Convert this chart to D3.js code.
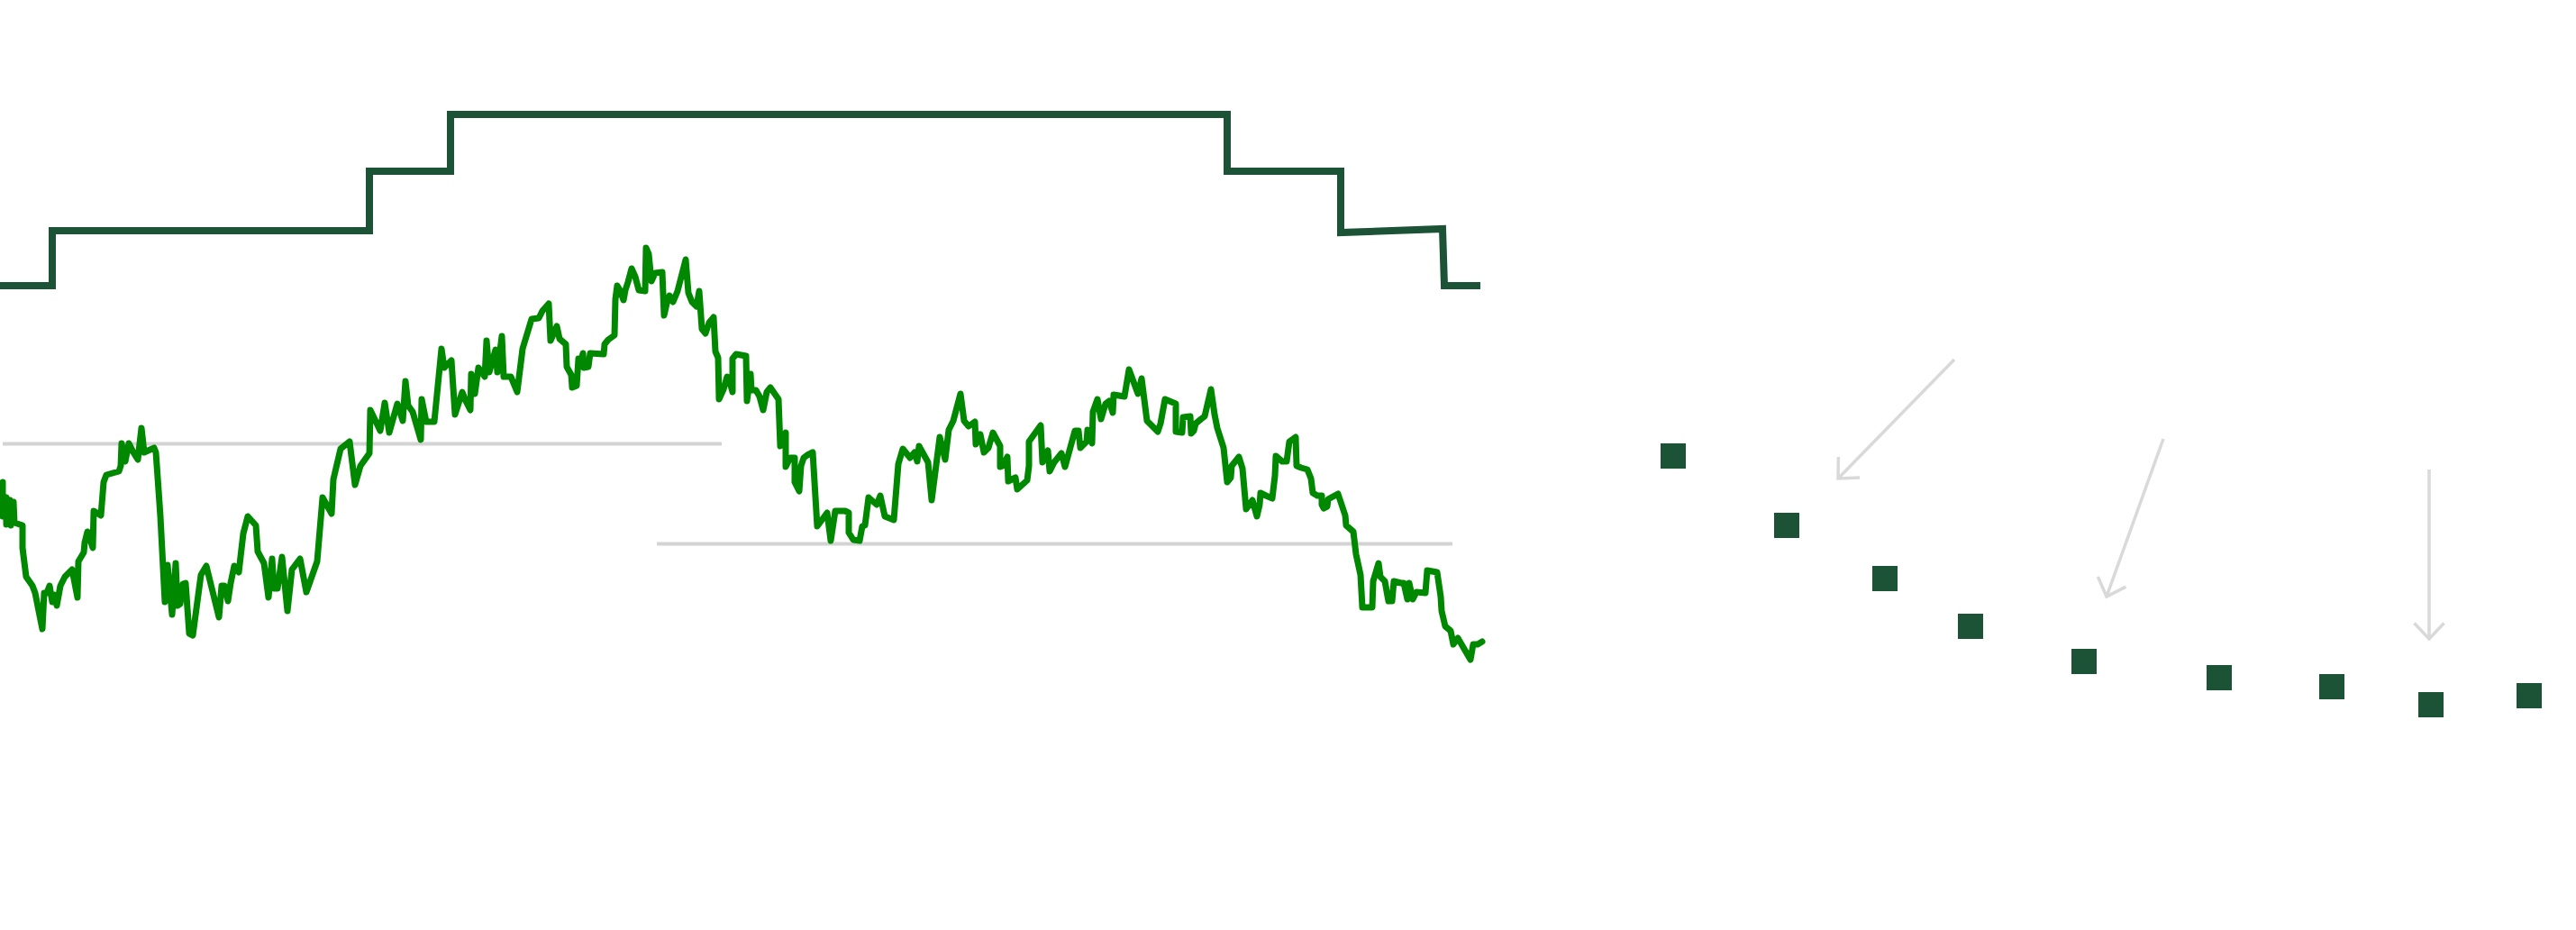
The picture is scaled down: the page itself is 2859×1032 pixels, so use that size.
<!DOCTYPE html>
<html lang="en">
<head>
<meta charset="UTF-8" />
<title>Chart</title>
<script src="https://d3js.org/d3.v7.min.js"></script>
<style>
  body { margin: 0; background: #fff; }
  svg { display: block; }
</style>
</head>
<body>
<svg id="chart"></svg>
<script>
// daily series [day, value]
const priceSeries = [
  [0,39.4],[1.5,43],[1.5,35.4],[3.5,39.6],[3.5,33.6],[5.5,39],[6,33.4],[7.5,38.6],[8,34],[12.5,33.4],
  [12.5,28.4],[14.5,22],[18,20],[19.5,18.4],[23.5,10.4],[24.5,18.4],[26,18.4],[27.5,20],[29,16.4],[30,18],
  [31.5,15.6],[33.5,20],[36,22],[40,23.6],[43,17.4],[43.5,25.4],[46.5,27.4],[47,29.6],[48.5,32],[51.5,28.4],
  [52,36.6],[56,35.6],[57.5,43],[59,44.6],[66,45.4],[67,46.6],[67.5,51.6],[69.5,47.6],[71.5,51.6],[74,49.6],
  [76.5,48],[78.5,55],[80,49.6],[85.5,50.6],[86.5,49.6],[87.5,44],[89,35.4],[91.5,16.4],[93,24.6],[95.5,13.6],
  [97.5,25],[98.5,15.6],[100,16],[101.5,20.4],[103,20.6],[105,9.4],[107,9],[111.5,22.4],[114.5,24.4],[121.5,13],
  [123,20],[124.5,20],[126.5,16.6],[128,20.6],[130,24.4],[132.5,23],[135,31.6],[137.5,35.4],[142,33.4],[143,27.6],
  [146.5,25],[149,17.4],[151,26],[152,19.4],[154,19.4],[156.5,26.4],[159.5,14.4],[162,23.6],[166.5,26],[170,18.6],
  [176,25.4],[179,39.6],[184,36],[185,43.6],[189,50.4],[194,52],[197,42.4],[200,46.6],[205,49.4],[205.5,59],
  [211,54.4],[213.5,60.6],[216,54],[220.5,60.4],[223.5,56.6],[225,65.4],[226.5,60],[229,58.6],[233.5,52.4],[234,61.4],
  [236.5,56.4],[241,56.4],[245,72.6],[246.5,68.4],[250.5,70],[252.5,58],[256.5,63],[258.5,61],[261,59],[261.5,67],
  [263.5,62.6],[265.5,68.4],[269,66.4],[270,74.4],[271.5,67.4],[275,72.4],[276,67.4],[278.5,75.4],[279.5,66.4],[283.5,66.4],
  [287,63],[290,72.6],[295,79.2],[299,79.4],[301,81],[304.5,82.6],[305.5,74.4],[309,77.6],[310.5,74.8],[314,73.6],
  [314.5,68.6],[317,66.8],[317.5,64],[320,64.4],[321,70.4],[322.5,70],[323.5,71.6],[324,68.4],[326.5,68.6],[327.5,71.6],
  [335,71.4],[335.5,73.6],[337.5,74.6],[341,75.6],[341.5,83.6],[342.5,86.6],[344,85.6],[346,83.4],[347,85.6],[348.5,87.4],
  [350.5,90.4],[352.5,88.6],[354.5,85.6],[358,85.4],[358.5,95],[360,93.6],[361.5,87.6],[363.5,89.4],[367.5,89.6],[368.5,80],
  [370,82.6],[371.5,84.4],[373.5,83],[376,85.4],[380.5,92.4],[382,85],[384,83],[386.5,82],[388,85.4],[389.5,77],
  [391.5,76],[393.5,78.4],[396,79.6],[397,72],[398.5,70.6],[399,61.4],[401.5,63.6],[403.5,66.4],[404.5,66],[406.5,63],
  [406.5,70.4],[408.5,71.4],[414,71],[414.5,61],[416.5,67],[417,63.4],[419.5,63.4],[421.5,62],[423.5,59],[425.5,63],
  [427.5,64],[432,61.4],[433,51],[436,54],[436,46.4],[438.5,48.4],[441,48.4],[441,43],[443.5,41],[444.5,46.6],
  [446,48.4],[448,49],[451,49.6],[453.5,33.2],[459,36.2],[461,30],[463.5,36.6],[469,36.6],[471,36.2],[471,31.8],
  [473.5,30.2],[477,30],[478.5,33.2],[480,33.4],[482,39.6],[486.5,38],[488.5,40],[491,35.4],[496,34.6],[498.5,47],
  [501,50.4],[505,48.4],[507.5,49.6],[509,47.6],[510,51],[515,47.4],[517,39],[521.5,53],[524.5,48],[526.5,54.6],
  [529,56.6],[533,62.6],[535,56.6],[537.5,55.4],[541,56.4],[541.5,51.4],[544,53.6],[546,49.6],[548.5,50.6],[551,54],
  [555,51],[555,46.4],[556.5,46.6],[559,48.6],[559.5,43.2],[563.5,44],[564.5,41.4],[570,43.4],[571,46.6],[571,52],
  [577.5,55.6],[578.5,47.4],[581.5,50],[582.5,45.4],[585,47.4],[589,49.4],[591,46.4],[596.5,54.4],[598.5,54.4],[599.5,50.6],
  [603,52],[603.5,54.6],[606,51.6],[606.5,58.6],[609,61.4],[611,57],[613.5,60.4],[615.5,61],[617.5,58.4],[618,62.4],
  [624,62],[626.5,68],[631.5,62.6],[633.5,66],[636.5,56.6],[642.5,54.2],[644,56],[646.5,61.4],[652.5,60.4],[652.5,54.2],
  [656,54],[656.5,57.4],[660.5,57.6],[661,53.8],[662.5,54.4],[663.5,56],[666.5,57],[668.5,57.6],[672,63.6],[674,58],
  [675.5,55],[679,50.6],[681,43],[683,44],[683.5,46.6],[687.5,48.6],[689.5,46],[691.5,37],[695,39],[697.5,35.4],
  [699,38],[699.5,40.6],[702.5,40],[706,39.4],[707.5,44.4],[708,48.8],[711.5,47.6],[714,47.6],[715.5,52],[719,53],
  [719.5,46.6],[722,46.2],[725.5,45.8],[727.5,43.8],[728.5,40.6],[731,40],[733.5,40],[733.5,38],[734.5,37.2],[736.5,37.6],
  [737,39.2],[742.5,40.4],[746.5,35.6],[747,33.4],[751,32],[752.5,27],[755,22.4],[756,15.2],[761.5,15.2],[762,21],
  [765,25],[766,22],[768.5,21],[770.5,16.6],[772.5,16.6],[773.5,21],[777.5,20.6],[779,20.6],[781,17],[782,20.6],
  [784,17],[786,18.6],[791,18.4],[792,23.4],[797.5,23],[799.5,17.6],[800,14.4],[802,11],[805,10],[806.5,7],
  [809,8.4],[812.5,6],[816,3.6],[817.5,7],[820,7],[822.5,7.6]
];

// stepped level line vertices [day, level]
const levelSeries = [
  [0,86.6],[29,86.6],[29,98.8],[205,98.8],[205,112],[250,112],[250,124.6],[681,124.6],
  [681,112],[744,112],[744,98.4],[800.5,99.2],[801.5,86.6],[821.5,86.6]
];

// period averages [startDay, endDay, value]
const averages = [
  [1.5, 400.5, 51.5],
  [364.5, 806, 29.3]
];

// later points
const pointDays = [928.5, 991.5, 1046, 1093.5, 1156.5, 1231.5, 1294, 1349, 1403.5];
const pointValues = [48.8, 33.4, 21.6, 11, 3.2, -0.4, -2.4, -6.4, -4.4];

// annotation arrows [fromDay, fromValue, toDay, toValue]
const arrows = [
  [1084.5, 70.2, 1020, 43.8],
  [1200.5, 52.6, 1169, 17.6],
  [1348, 45.8, 1348, 8.2]
];

const W = 2859, H = 1032;
const svg = d3.select("#chart").attr("width", W).attr("height", H);

const x = d3.scaleLinear().domain([0, 1000]).range([0, 2000]);
const y = d3.scaleLinear().domain([0, 100]).range([750, 250]);

const line = d3.line().x(d => x(d[0])).y(d => y(d[1]));

svg.append("defs").append("marker")
  .attr("id", "head")
  .attr("markerUnits", "userSpaceOnUse")
  .attr("viewBox", "-22 -20 26 40")
  .attr("refX", 0).attr("refY", 0)
  .attr("markerWidth", 26).attr("markerHeight", 40)
  .attr("orient", "auto")
  .append("path")
  .attr("d", "M-17.5,-16.5L0,0L-17.5,16.5")
  .attr("fill", "none")
  .attr("stroke", "#d9d9d9")
  .attr("stroke-width", 3.5);

svg.append("g").selectAll("line.avg")
  .data(averages)
  .join("line")
  .attr("x1", d => x(d[0])).attr("x2", d => x(d[1]))
  .attr("y1", d => y(d[2])).attr("y2", d => y(d[2]))
  .attr("stroke", "#d3d3d3")
  .attr("stroke-width", 4);

svg.append("path")
  .datum(levelSeries)
  .attr("d", line)
  .attr("fill", "none")
  .attr("stroke", "#1c5236")
  .attr("stroke-width", 8)
  .attr("stroke-linejoin", "miter");

svg.append("path")
  .datum(priceSeries)
  .attr("d", line)
  .attr("fill", "none")
  .attr("stroke", "#008800")
  .attr("stroke-width", 7)
  .attr("stroke-linejoin", "round")
  .attr("stroke-linecap", "round");

svg.append("g").selectAll("line.arrow")
  .data(arrows)
  .join("line")
  .attr("x1", d => x(d[0])).attr("y1", d => y(d[1]))
  .attr("x2", d => x(d[2])).attr("y2", d => y(d[3]))
  .attr("stroke", "#d9d9d9")
  .attr("stroke-width", 3.5)
  .attr("marker-end", "url(#head)");

const side = 28;
svg.append("g").selectAll("rect")
  .data(pointDays.map((t, i) => [t, pointValues[i]]))
  .join("rect")
  .attr("x", d => x(d[0]) - side / 2)
  .attr("y", d => y(d[1]) - side / 2)
  .attr("width", side)
  .attr("height", side)
  .attr("fill", "#1c5236");
</script>
</body>
</html>
